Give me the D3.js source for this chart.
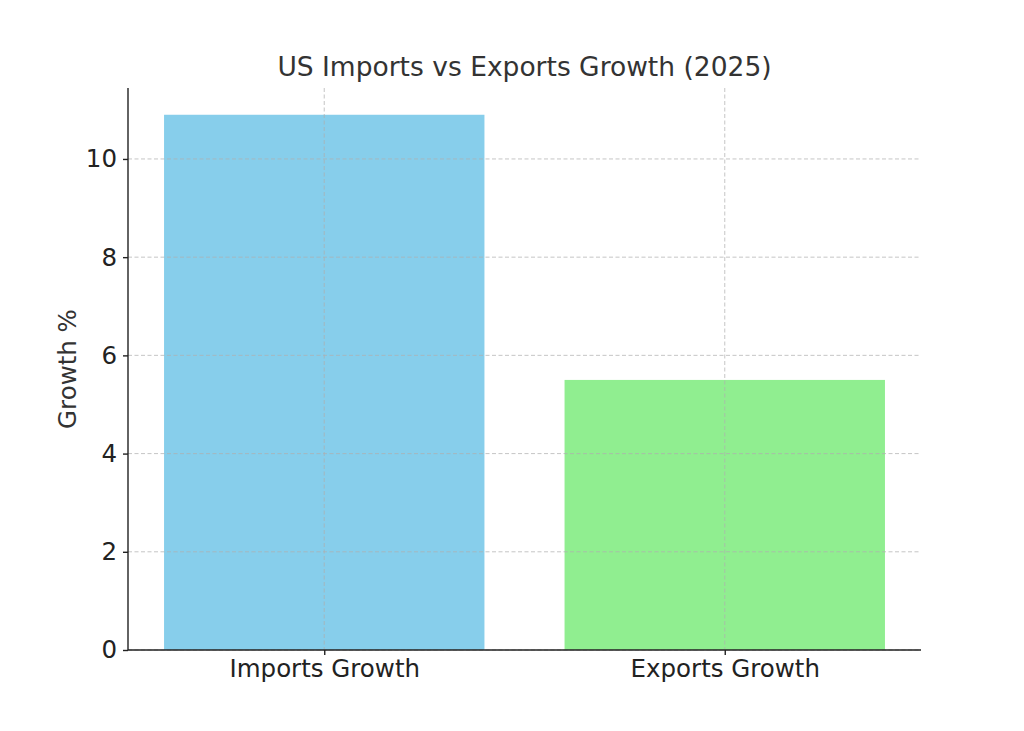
<!DOCTYPE html>
<html><head><meta charset="utf-8">
<script src="https://cdn.jsdelivr.net/npm/d3@7"></script>
<style>body{margin:0;background:#fff}text{font-family:"DejaVu Sans",sans-serif;fill:#333}</style>
</head><body><svg id="c" width="1024" height="731"></svg>
<script>
const categories = ["Imports Growth", "Exports Growth"];
const values = [10.9, 5.5];
const colors = ["#87CEEB", "#90EE90"];
const yTicks = [0, 2, 4, 6, 8, 10];
const title = "US Imports vs Exports Growth (2025)";
const yLabel = "Growth %";

const svg = d3.select("#c");
const L = 128, R = 921, T = 88, B = 650;
const x = d3.scaleLinear().domain([-0.49, 1.49]).range([L, R]);
const y = d3.scaleLinear().domain([0, 11.445]).range([B, T]);
const bw = x(0.8) - x(0);

svg.selectAll("rect.bar").data(values).join("rect")
  .attr("x", (d, i) => x(i) - bw / 2).attr("width", bw)
  .attr("y", d => y(d)).attr("height", d => B - y(d))
  .attr("fill", (d, i) => colors[i]);

const g = svg.append("g");
yTicks.forEach(t => g.append("line").attr("x1", L).attr("x2", R).attr("y1", y(t)).attr("y2", y(t)));
categories.forEach((c, i) => g.append("line").attr("x1", x(i)).attr("x2", x(i)).attr("y1", T).attr("y2", B));
g.selectAll("line").attr("stroke", "#b0b0b0").attr("stroke-width", 0.9).attr("stroke-dasharray", "4,2.5").attr("opacity", 0.8);

const ya = svg.append("g").attr("transform", `translate(${L},0)`)
  .call(d3.axisLeft(y).tickValues(yTicks).tickSize(5).tickPadding(6));
const xa = svg.append("g").attr("transform", `translate(0,${B})`)
  .call(d3.axisBottom(x).tickValues([0, 1]).tickFormat(i => categories[i]).tickSize(5).tickPadding(5));
[ya, xa].forEach(a => {
  a.selectAll("text").style("font-size", "24.5px").style("fill", "#222");
  a.selectAll("line,path").attr("stroke", "#222").attr("stroke-width", 1.4);
});
ya.select(".domain").attr("d", `M0,${T}V${B}`);
xa.select(".domain").attr("d", `M${L},0H${R}`);

svg.append("text").attr("x", (L + R) / 2).attr("y", 76).attr("text-anchor", "middle")
  .style("font-size", "26.5px").text(title);
svg.append("text").attr("transform", `translate(76,${(T + B) / 2}) rotate(-90)`).attr("text-anchor", "middle")
  .style("font-size", "24.5px").text(yLabel);
</script></body></html>
